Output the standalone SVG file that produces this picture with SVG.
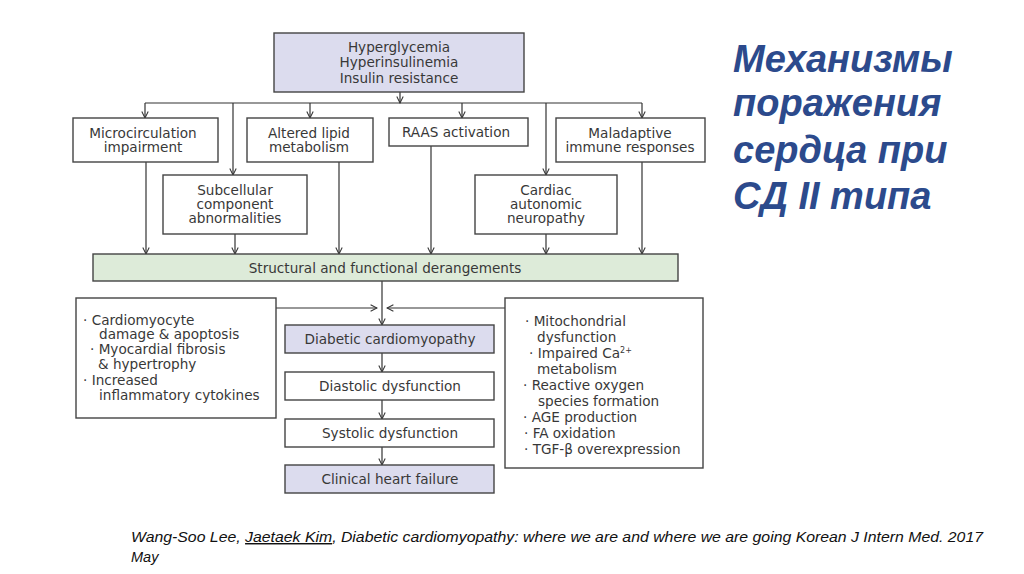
<svg xmlns="http://www.w3.org/2000/svg" width="1024" height="574" viewBox="0 0 1024 574">
<defs>
<marker id="arr" viewBox="0 0 10 10" refX="9" refY="5" markerWidth="8" markerHeight="8" markerUnits="userSpaceOnUse" orient="auto">
<path d="M1,1 L9,5 L1,9" fill="none" stroke="#333" stroke-width="1.3"/>
</marker>
<style>
.box{fill:#fff;stroke:#444;stroke-width:1.4}
.lav{fill:#dcdcee;stroke:#444;stroke-width:1.4}
.grn{fill:#ddebd9;stroke:#444;stroke-width:1.4}
.t{font-family:"DejaVu Sans",sans-serif;font-size:13.6px;fill:#383838;text-anchor:middle}
.tl{font-family:"DejaVu Sans",sans-serif;font-size:13.6px;fill:#383838}
.c line{stroke:#333;stroke-width:1.2;fill:none}
.title{font-family:"Liberation Sans",Arial,sans-serif;font-size:38px;font-weight:bold;font-style:italic;fill:#2c4a8c}
.cite{font-family:"Liberation Sans",Arial,sans-serif;font-size:14.5px;font-style:italic;fill:#111}
</style>
</defs>
<rect width="1024" height="574" fill="#fff"/>

<g class="c" id="connectors">
<line x1="400" y1="92" x2="400" y2="103" marker-end="url(#arr)"/>
<line x1="145" y1="103" x2="642" y2="103"/>
<line x1="145" y1="103" x2="145" y2="118" marker-end="url(#arr)"/>
<line x1="310" y1="103" x2="310" y2="118" marker-end="url(#arr)"/>
<line x1="462" y1="103" x2="462" y2="118" marker-end="url(#arr)"/>
<line x1="642" y1="103" x2="642" y2="118" marker-end="url(#arr)"/>
<line x1="233" y1="103" x2="233" y2="175" marker-end="url(#arr)"/>
<line x1="546" y1="103" x2="546" y2="175" marker-end="url(#arr)"/>
<line x1="146" y1="162" x2="146" y2="254" marker-end="url(#arr)"/>
<line x1="235" y1="234" x2="235" y2="254" marker-end="url(#arr)"/>
<line x1="339" y1="162" x2="339" y2="254" marker-end="url(#arr)"/>
<line x1="431" y1="146" x2="431" y2="254" marker-end="url(#arr)"/>
<line x1="546" y1="234" x2="546" y2="254" marker-end="url(#arr)"/>
<line x1="642" y1="162" x2="642" y2="254" marker-end="url(#arr)"/>
<line x1="382" y1="281" x2="382" y2="325" marker-end="url(#arr)"/>
<line x1="276" y1="308" x2="377" y2="308" marker-end="url(#arr)"/>
<line x1="505" y1="308" x2="387" y2="308" marker-end="url(#arr)"/>
<line x1="382" y1="353" x2="382" y2="372" marker-end="url(#arr)"/>
<line x1="382" y1="400" x2="382" y2="419" marker-end="url(#arr)"/>
<line x1="382" y1="447" x2="382" y2="465" marker-end="url(#arr)"/>
</g>

<g id="n-top">
<rect class="lav" x="274" y="33" width="250" height="59"/>
<text class="t" x="399" y="52">Hyperglycemia</text>
<text class="t" x="399" y="67">Hyperinsulinemia</text>
<text class="t" x="399" y="82.5">Insulin resistance</text>
</g>
<g id="n-micro">
<rect class="box" x="73" y="118" width="145" height="44"/>
<text class="t" x="143" y="137.5">Microcirculation</text>
<text class="t" x="143" y="151.5">impairment</text>
</g>
<g id="n-lipid">
<rect class="box" x="247" y="118" width="126" height="44"/>
<text class="t" x="309" y="137.5">Altered lipid</text>
<text class="t" x="309" y="151.5">metabolism</text>
</g>
<g id="n-raas">
<rect class="box" x="389" y="118" width="139" height="28"/>
<text class="t" x="456" y="137">RAAS activation</text>
</g>
<g id="n-immune">
<rect class="box" x="556" y="118" width="149" height="44"/>
<text class="t" x="630" y="137.5">Maladaptive</text>
<text class="t" x="630" y="151.5">immune responses</text>
</g>
<g id="n-subcell">
<rect class="box" x="163" y="175" width="144" height="59"/>
<text class="t" x="235" y="195">Subcellular</text>
<text class="t" x="235" y="209">component</text>
<text class="t" x="235" y="223">abnormalities</text>
</g>
<g id="n-cardiac">
<rect class="box" x="475" y="175" width="142" height="59"/>
<text class="t" x="546" y="195">Cardiac</text>
<text class="t" x="546" y="209">autonomic</text>
<text class="t" x="546" y="223">neuropathy</text>
</g>
<g id="n-struct">
<rect class="grn" x="93" y="254" width="585" height="27"/>
<text class="t" x="385" y="272.5">Structural and functional derangements</text>
</g>
<g id="n-left">
<rect class="box" x="76" y="298" width="200" height="120"/>
<text class="tl" x="83" y="324.5">· Cardiomyocyte</text>
<text class="tl" x="99" y="339">damage &amp; apoptosis</text>
<text class="tl" x="90" y="354">· Myocardial fibrosis</text>
<text class="tl" x="98" y="369">&amp; hypertrophy</text>
<text class="tl" x="83" y="384.5">· Increased</text>
<text class="tl" x="99" y="400">inflammatory cytokines</text>
</g>
<g id="n-right">
<rect class="box" x="505" y="298" width="198" height="170"/>
<text class="tl" x="525" y="326">· Mitochondrial</text>
<text class="tl" x="537" y="341.5">dysfunction</text>
<text class="tl" x="529" y="357.5">· Impaired Ca<tspan dy="-5" font-size="8">2+</tspan></text>
<text class="tl" x="537" y="373.5">metabolism</text>
<text class="tl" x="523" y="390">· Reactive oxygen</text>
<text class="tl" x="538" y="405.5">species formation</text>
<text class="tl" x="523" y="421.5">· AGE production</text>
<text class="tl" x="524" y="437.5">·  FA oxidation</text>
<text class="tl" x="524" y="453.5">·  TGF-β overexpression</text>
</g>
<g id="n-dcm">
<rect class="lav" x="285" y="325" width="209" height="28"/>
<text class="t" x="390" y="344">Diabetic cardiomyopathy</text>
</g>
<g id="n-diast">
<rect class="box" x="285" y="372" width="209" height="28"/>
<text class="t" x="390" y="391">Diastolic dysfunction</text>
</g>
<g id="n-syst">
<rect class="box" x="285" y="419" width="209" height="28"/>
<text class="t" x="390" y="438">Systolic dysfunction</text>
</g>
<g id="n-chf">
<rect class="lav" x="285" y="465" width="209" height="28"/>
<text class="t" x="390" y="484">Clinical heart failure</text>
</g>

<g id="title">
<text class="title" x="733" y="72">Механизмы</text>
<text class="title" x="733" y="116">поражения</text>
<text class="title" x="733" y="163">сердца при</text>
<text class="title" x="733" y="209">СД II типа</text>
</g>
<g id="citation">
<text class="cite" x="131" y="542" textLength="852" lengthAdjust="spacingAndGlyphs">Wang-Soo Lee, <tspan text-decoration="underline">Jaetaek Kim</tspan>, Diabetic cardiomyopathy: where we are and where we are going Korean J Intern Med. 2017</text>
<text class="cite" x="131" y="562">May</text>
</g>
</svg>
